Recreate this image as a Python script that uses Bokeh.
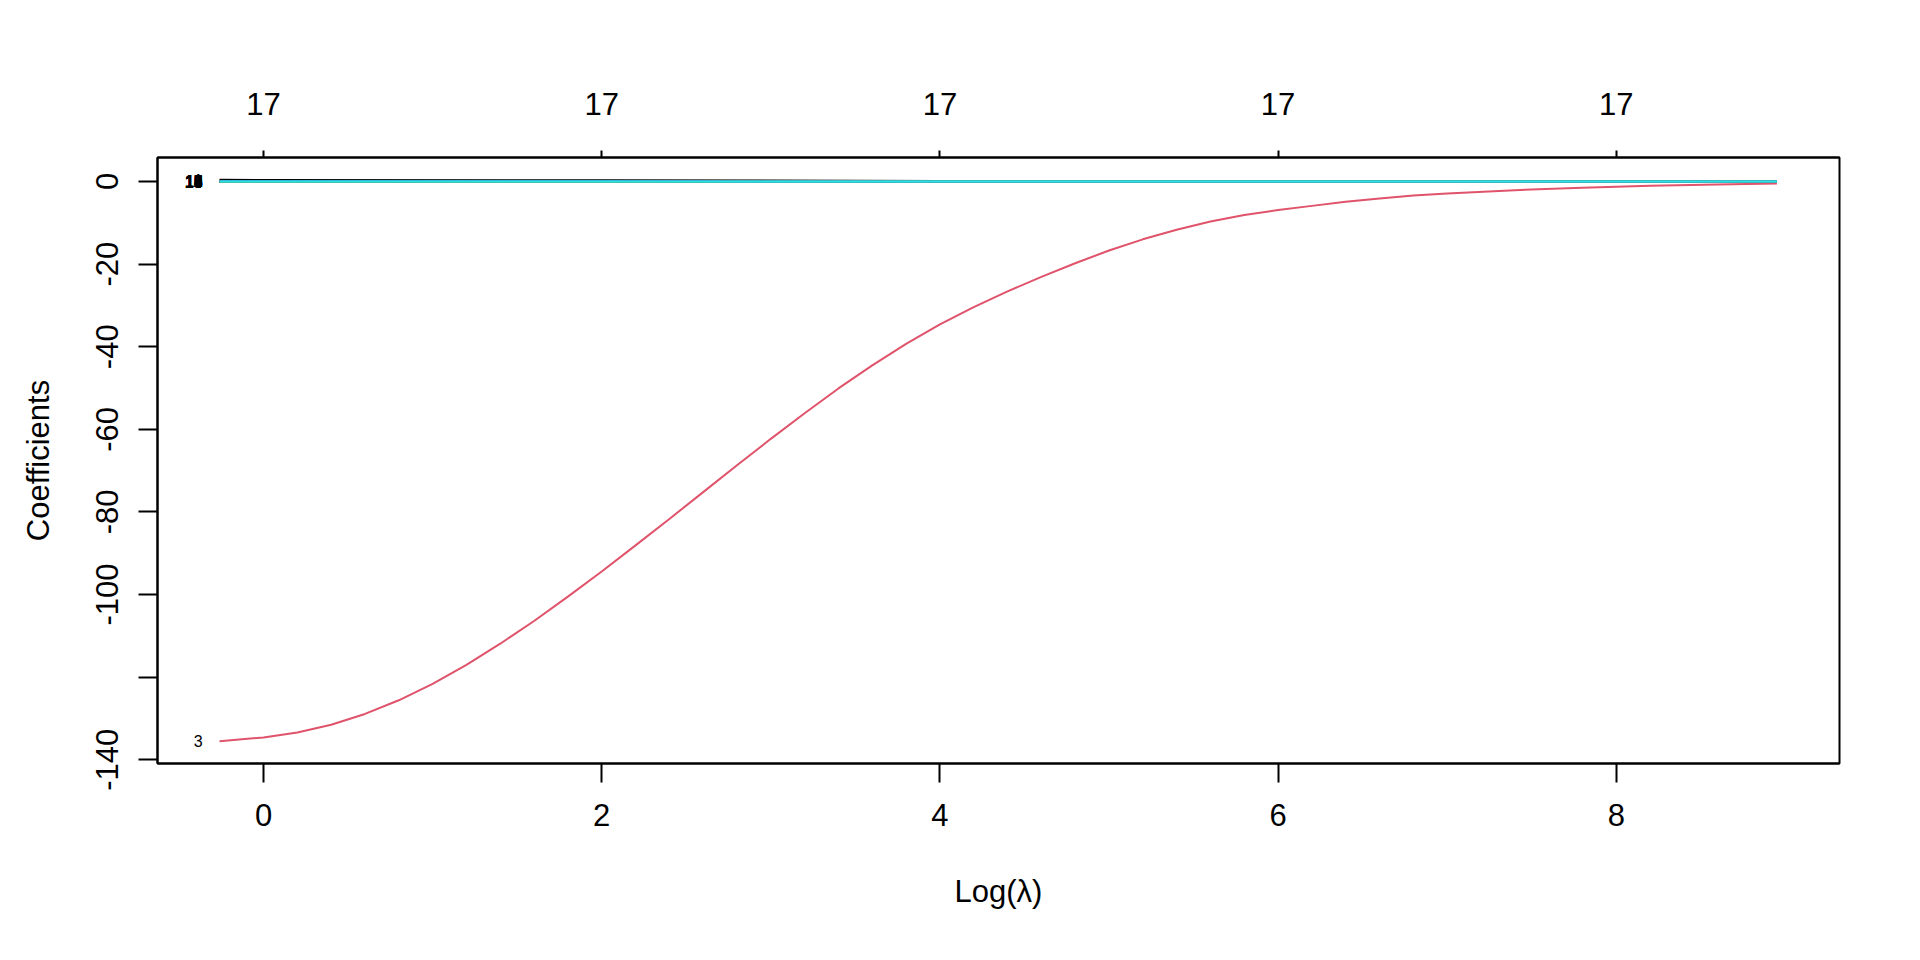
from bokeh.plotting import figure
from bokeh.models import Range1d, LinearAxis, FixedTicker, ColumnDataSource
from bokeh.core.properties import value
from bokeh.embed import file_html
from bokeh.resources import INLINE

# log(lambda) grid and the one large coefficient path (variable 3)
log_lambda = [-0.26, 0.0, 0.2, 0.4, 0.6, 0.8, 1.0, 1.2, 1.4, 1.6, 1.8, 2.0, 2.2, 2.4, 2.6, 2.8,
              3.0, 3.2, 3.4, 3.6, 3.8, 4.0, 4.2, 4.4, 4.6, 4.8, 5.0, 5.2, 5.4, 5.6, 5.8, 6.0,
              6.2, 6.4, 6.6, 6.8, 7.0, 7.4, 7.8, 8.2, 8.6, 8.95]
coef_3 = [-135.5, -134.6, -133.4, -131.5, -128.9, -125.6, -121.6, -117.0, -111.9, -106.4, -100.5,
          -94.4, -88.1, -81.7, -75.2, -68.7, -62.3, -56.1, -50.1, -44.5, -39.3, -34.6, -30.4,
          -26.6, -23.1, -19.8, -16.7, -14.0, -11.7, -9.7, -8.1, -6.9, -5.9, -4.9, -4.1, -3.4,
          -2.9, -2.1, -1.5, -1.0, -0.7, -0.5]

# the other coefficients stay close to zero on this scale
small_x = [-0.26, 2.0, 4.0, 6.0, 8.0, 8.95]
small_names = ["1", "2", "4", "5", "6", "7", "8", "9", "10", "11", "12", "13", "14", "15", "16", "17"]
small_colors = ["black", "#61D04F", "#2297E6", "#28E2E5", "#CD0BBC", "black", "#DF536B", "#61D04F",
                "#2297E6", "#28E2E5", "#CD0BBC", "black", "#DF536B", "#61D04F", "#2297E6", "#28E2E5"]
small_coefs = [
    [0.40, 0.30, 0.15, 0.05, 0.01, 0.0],
    [0.05, 0.04, 0.02, 0.01, 0.0, 0.0],
    [-0.10, -0.08, -0.04, -0.01, 0.0, 0.0],
    [0.02, 0.02, 0.01, 0.0, 0.0, 0.0],
    [-0.05, -0.04, -0.02, -0.01, 0.0, 0.0],
    [0.10, 0.08, 0.04, 0.01, 0.0, 0.0],
    [-0.15, -0.12, -0.06, -0.02, 0.0, 0.0],
    [0.03, 0.02, 0.01, 0.0, 0.0, 0.0],
    [-0.02, -0.02, -0.01, 0.0, 0.0, 0.0],
    [0.01, 0.01, 0.0, 0.0, 0.0, 0.0],
    [0.06, 0.05, 0.02, 0.0, 0.0, 0.0],
    [-0.04, -0.03, -0.01, 0.0, 0.0, 0.0],
    [0.02, 0.01, 0.0, 0.0, 0.0, 0.0],
    [-0.08, -0.06, -0.03, -0.01, 0.0, 0.0],
    [0.04, 0.03, 0.01, 0.0, 0.0, 0.0],
    [-0.01, -0.01, 0.0, 0.0, 0.0, 0.0],
]

x_ticks = [0, 2, 4, 6, 8]
top_labels = ["17", "17", "17", "17", "17"]
y_ticks = [0, -20, -40, -60, -80, -100, -120, -140]
y_labels = ["0", "-20", "-40", "-60", "-80", "-100", "", "-140"]

FONT = "Liberation Sans"

p = figure(width=1904, height=944, output_backend="svg", toolbar_location=None,
           x_range=Range1d(-0.627, 9.32), y_range=Range1d(-140.9, 5.81),
           min_border_left=157, min_border_right=65, min_border_top=157, min_border_bottom=181)
p.grid.visible = False
p.outline_line_color = "black"
p.outline_line_width = 2
p.background_fill_color = "white"

p.line(log_lambda, coef_3, line_color="#DF536B", line_width=2)
for ys, c in zip(small_coefs, small_colors):
    p.line(small_x, ys, line_color=c, line_width=2)

# variable labels at the left end of each path
lab = ColumnDataSource(dict(x=[log_lambda[0]] * (len(small_names) + 1),
                            y=[coef_3[0]] + [c[0] for c in small_coefs],
                            t=["3"] + small_names))
p.text(x="x", y="y", text="t", source=lab, text_align="right", text_baseline="middle",
       x_offset=-17, text_font_size="16px", text_color="black", text_font=value(FONT))

xa = p.xaxis[0]
xa.ticker = FixedTicker(ticks=x_ticks)
xa.major_label_overrides = {t: str(t) for t in x_ticks}
xa.axis_label = "Log(λ)"
ya = p.yaxis[0]
ya.ticker = FixedTicker(ticks=y_ticks)
ya.major_label_overrides = {t: s for t, s in zip(y_ticks, y_labels)}
ya.axis_label = "Coefficients"
ya.major_label_orientation = "vertical"

top = LinearAxis(ticker=FixedTicker(ticks=x_ticks),
                 major_label_overrides={t: s for t, s in zip(x_ticks, top_labels)})
p.add_layout(top, "above")

for ax in [xa, ya, top]:
    ax.axis_line_color = "black"
    ax.axis_line_width = 2
    ax.major_tick_line_color = "black"
    ax.major_tick_line_width = 2
    ax.major_tick_in = 0
    ax.major_tick_out = 19
    ax.minor_tick_line_color = None
    ax.major_label_text_font = FONT
    ax.major_label_text_font_size = "31px"
    ax.major_label_text_color = "black"
    ax.major_label_standoff = 21
    ax.axis_label_text_font = FONT
    ax.axis_label_text_font_size = "31px"
    ax.axis_label_text_font_style = "normal"
    ax.axis_label_text_color = "black"
top.major_tick_out = 7
top.major_label_standoff = 36
ya.major_label_standoff = 20
xa.axis_label_standoff = 45
ya.axis_label_standoff = 38

open("out.html", "w").write(file_html(p, INLINE))
